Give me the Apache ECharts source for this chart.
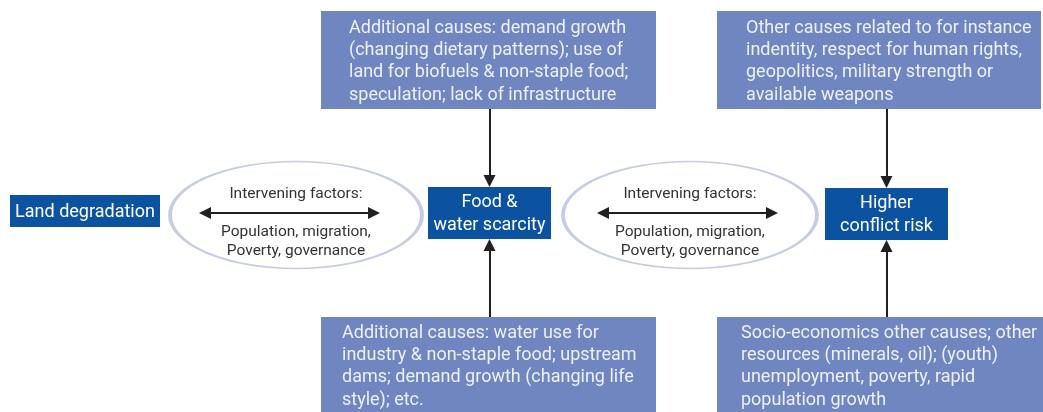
<!DOCTYPE html>
<html>
<head>
<meta charset="utf-8">
<script src="https://cdn.jsdelivr.net/npm/echarts@6/dist/echarts.min.js"></script>
<style>
  html, body { margin: 0; padding: 0; background: #fff; }
  #chart { width: 1043px; height: 412px; }
</style>
</head>
<body>
<div id="chart"></div>
<script>
// boxes of the diagram
const nodeIds = ['land', 'food', 'conflict', 'topFood', 'topConflict', 'botFood', 'botConflict'];
const nodeLabels = [
  'Land degradation',
  'Food &\nwater scarcity',
  'Higher\nconflict risk',
  'Additional causes: demand growth\n(changing dietary patterns); use of\nland for biofuels & non-staple food;\nspeculation; lack of infrastructure',
  'Other causes related to for instance\nindentity, respect for human rights,\ngeopolitics, military strength or\navailable weapons',
  'Additional causes: water use for\nindustry & non-staple food; upstream\ndams; demand growth (changing life\nstyle); etc.',
  'Socio-economics other causes; other\nresources (minerals, oil); (youth)\nunemployment, poverty, rapid\npopulation growth'
];
const nodeKinds = ['main', 'main', 'main', 'cause', 'cause', 'cause', 'cause'];
// intervening factor ellipses
const factorTitle = 'Intervening factors:';
const factorLines = ['Population, migration,', 'Poverty, governance'];
const factorIds = ['left', 'right'];
// arrows
const causeLinks = [['topFood', 'food'], ['botFood', 'food'], ['topConflict', 'conflict'], ['botConflict', 'conflict']];

// layout (pixels): x, y, w, h, text inset left, text inset top
const layout = {
  land: [10, 195, 150, 32],
  food: [428, 187, 123, 52],
  conflict: [825, 188, 123, 52],
  topFood: [321, 11, 335, 98, 28, 6],
  topConflict: [717, 11, 324, 98, 29, 6],
  botFood: [321, 317, 335, 95, 21, 5],
  botConflict: [717, 317, 326, 95, 24, 5]
};
const ellipses = {
  left: { c: [296, 215], size: [252, 107], arrow: [199, 380], y: 213 },
  right: { c: [690, 215], size: [254, 107], arrow: [597, 778], y: 213 }
};

const FONT = 'Roboto';
const ARROW = 12;

const boxData = nodeIds.map(function (id, i) {
  const b = layout[id];
  const main = nodeKinds[i] === 'main';
  return {
    name: id,
    value: [b[0] + b[2] / 2, b[1] + b[3] / 2],
    symbolSize: [b[2], b[3]],
    itemStyle: { color: main ? '#0b53a0' : '#6f86c0' },
    label: main ? {
      show: true,
      position: 'inside',
      offset: [0, 1],
      formatter: nodeLabels[i],
      color: '#ffffff',
      fontFamily: FONT,
      fontSize: 18,
      lineHeight: 23,
      align: 'center'
    } : {
      show: true,
      position: [b[4], b[5]],
      formatter: nodeLabels[i],
      color: '#eef0f8',
      fontFamily: FONT,
      fontSize: 18,
      lineHeight: 22.3,
      align: 'left',
      verticalAlign: 'top'
    }
  };
});

const ellipseData = factorIds.map(function (id) {
  const e = ellipses[id];
  return {
    name: id,
    value: e.c,
    symbolSize: e.size,
    label: {
      show: true,
      position: 'inside',
      offset: [0, 8],
      formatter: factorTitle + '\n\n' + factorLines.join('\n'),
      color: '#333333',
      fontFamily: FONT,
      fontSize: 15.5,
      lineHeight: 19,
      align: 'center'
    }
  };
});

// vertical arrows from cause boxes to main boxes
const arrowData = causeLinks.map(function (l) {
  const from = layout[l[0]];
  const to = layout[l[1]];
  const x = to[0] + to[2] / 2;
  const down = from[1] < to[1];
  const y0 = down ? from[1] + from[3] : from[1];
  const y1 = down ? to[1] - ARROW / 2 : to[1] + to[3] + ARROW / 2;
  return { coords: [[x, y0], [x, y1]] };
});

const doubleData = factorIds.map(function (id) {
  const e = ellipses[id];
  return { coords: [[e.arrow[0] + ARROW / 2, e.y], [e.arrow[1] - ARROW / 2, e.y]] };
});

const chart = echarts.init(document.getElementById('chart'));
chart.setOption({
  animation: false,
  grid: { left: 0, right: 0, top: 0, bottom: 0 },
  xAxis: { type: 'value', min: 0, max: 1043, show: false },
  yAxis: { type: 'value', min: 0, max: 412, inverse: true, show: false },
  series: [
    {
      type: 'scatter',
      silent: true,
      z: 1,
      symbol: 'path://M0 50A50 50 0 1 1 100 50A50 50 0 1 1 0 50Z',
      itemStyle: { color: '#ffffff', borderColor: '#c6cce6', borderWidth: 2.5, opacity: 1 },
      emphasis: { disabled: true },
      data: ellipseData
    },
    {
      type: 'scatter',
      silent: true,
      z: 2,
      symbol: 'rect',
      itemStyle: { opacity: 1 },
      emphasis: { disabled: true },
      data: boxData
    },
    {
      type: 'lines',
      coordinateSystem: 'cartesian2d',
      silent: true,
      z: 3,
      symbol: ['none', 'triangle'],
      symbolSize: ARROW,
      lineStyle: { color: '#231f20', width: 2, opacity: 1 },
      data: arrowData
    },
    {
      type: 'lines',
      coordinateSystem: 'cartesian2d',
      silent: true,
      z: 3,
      symbol: ['triangle', 'triangle'],
      symbolSize: ARROW,
      lineStyle: { color: '#231f20', width: 2, opacity: 1 },
      data: doubleData
    }
  ]
});
</script>
</body>
</html>
